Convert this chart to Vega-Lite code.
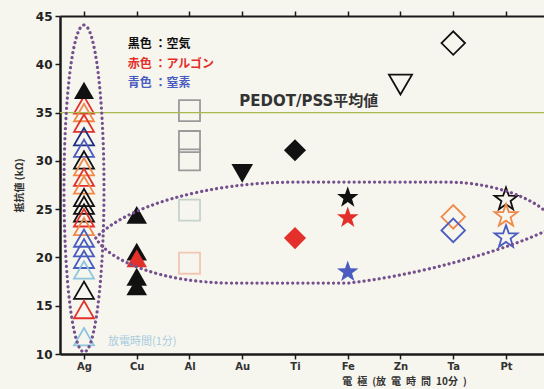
{
"$schema":"https://vega.github.io/schema/vega-lite/v6.json",
"width":484,"height":338,
"autosize":{"type":"none"},
"padding":{"left":60,"top":16,"right":0,"bottom":35},
"background":"#f7f6ee",
"config":{
 "view":{"stroke":null},
 "axisX":{"domain":true,"ticks":true,"domainWidth":2.5,"domainColor":"#1a1a1a","tickColor":"#1a1a1a","tickWidth":1.5,"tickSize":5,"labelFont":"DejaVu Sans","labelFontWeight":"bold","labelFontSize":10,"labelColor":"#333","labelAngle":0,"labelPadding":2,"grid":false},
 "axisY":{"domain":true,"ticks":true,"tickSize":5,"tickColor":"#1a1a1a","tickWidth":1.5,"domainWidth":2.5,"domainColor":"#1a1a1a","labelFont":"DejaVu Sans","labelFontWeight":"bold","labelFontSize":12,"labelColor":"#222","labelPadding":3,"grid":false,"titleFont":"Noto Sans CJK JP","titleFontWeight":"bold","titleFontSize":10,"titleColor":"#333","titlePadding":11}
},
"datasets":{"pts":[
 {"element":"Ag","value":37.3,"gas":"空気","marker":"filled"},
 {"element":"Ag","value":35.8,"gas":"アルゴン","marker":"open"},
 {"element":"Ag","value":35.0,"gas":"アルゴン2","marker":"open"},
 {"element":"Ag","value":33.9,"gas":"アルゴン","marker":"open"},
 {"element":"Ag","value":32.5,"gas":"窒素2","marker":"open"},
 {"element":"Ag","value":31.3,"gas":"窒素","marker":"open"},
 {"element":"Ag","value":30.1,"gas":"空気","marker":"open"},
 {"element":"Ag","value":29.4,"gas":"アルゴン2","marker":"open"},
 {"element":"Ag","value":28.3,"gas":"アルゴン","marker":"open"},
 {"element":"Ag","value":27.5,"gas":"アルゴン2","marker":"open"},
 {"element":"Ag","value":26.2,"gas":"空気","marker":"open"},
 {"element":"Ag","value":25.4,"gas":"空気","marker":"open"},
 {"element":"Ag","value":24.6,"gas":"空気","marker":"open"},
 {"element":"Ag","value":24.1,"gas":"アルゴン","marker":"open"},
 {"element":"Ag","value":23.2,"gas":"アルゴン2","marker":"open"},
 {"element":"Ag","value":22.0,"gas":"窒素","marker":"open"},
 {"element":"Ag","value":21.0,"gas":"窒素","marker":"open"},
 {"element":"Ag","value":19.8,"gas":"窒素","marker":"open"},
 {"element":"Ag","value":18.7,"gas":"窒素3","marker":"open"},
 {"element":"Ag","value":16.6,"gas":"空気","marker":"open"},
 {"element":"Ag","value":14.6,"gas":"アルゴン","marker":"open"},
 {"element":"Ag","value":11.8,"gas":"窒素3","marker":"open"},
 {"element":"Cu","value":24.4,"gas":"空気","marker":"filled"},
 {"element":"Cu","value":20.6,"gas":"空気","marker":"filled"},
 {"element":"Cu","value":18.0,"gas":"空気","marker":"filled"},
 {"element":"Cu","value":17.0,"gas":"空気","marker":"filled"},
 {"element":"Cu","value":19.9,"gas":"アルゴン","marker":"filled"},
 {"element":"Al","value":35.2,"gas":"Al空気","marker":"open"},
 {"element":"Al","value":32.0,"gas":"Al空気","marker":"open"},
 {"element":"Al","value":30.1,"gas":"Al空気","marker":"open"},
 {"element":"Al","value":24.9,"gas":"Al窒素","marker":"open"},
 {"element":"Al","value":19.4,"gas":"Alアルゴン","marker":"open"},
 {"element":"Au","value":28.7,"gas":"空気","marker":"filled"},
 {"element":"Ti","value":31.1,"gas":"空気","marker":"filled"},
 {"element":"Ti","value":22.0,"gas":"アルゴン","marker":"filled"},
 {"element":"Fe","value":26.2,"gas":"空気","marker":"filled"},
 {"element":"Fe","value":24.1,"gas":"アルゴン","marker":"filled"},
 {"element":"Fe","value":18.5,"gas":"窒素","marker":"filled"},
 {"element":"Zn","value":37.9,"gas":"空気","marker":"open"},
 {"element":"Ta","value":42.2,"gas":"空気","marker":"open"},
 {"element":"Ta","value":24.2,"gas":"アルゴン2","marker":"open"},
 {"element":"Ta","value":22.8,"gas":"窒素","marker":"open"},
 {"element":"Pt","value":26.0,"gas":"空気","marker":"open"},
 {"element":"Pt","value":24.3,"gas":"アルゴン2","marker":"open"},
 {"element":"Pt","value":22.1,"gas":"窒素","marker":"open"}
]},
"resolve":{"axis":{"x":"independent"}},
"layer":[
 {"data":{"name":"pts"},
  "transform":[{"filter":"datum.marker === 'open'"}],
  "mark":{"type":"point","filled":false,"strokeWidth":1.8,"opacity":1},
  "encoding":{
   "x":{"field":"element","type":"nominal","scale":{"type":"point","domain":["Ag","Cu","Al","Au","Ti","Fe","Zn","Ta","Pt"],"padding":0.5877,"align":0.387},
        "axis":{"orient":"bottom","encode":{"ticks":{"update":{"y2":{"value":-5}}}},"title":"電\u2002極\u2002(放\u2002電\u2002時\u2002間\u200210分\u2002)","titleFont":"Noto Sans CJK JP","titleFontWeight":"bold","titleFontSize":10,"titleColor":"#333","titleX":344,"titleY":27,"titleBaseline":"middle","titleAlign":"center"}},
   "y":{"field":"value","type":"quantitative","scale":{"domain":[10,45],"zero":false,"nice":false},
        "axis":{"orient":"left","domain":true,"encode":{"ticks":{"update":{"x2":{"value":5}}}},"title":"抵抗値 (kΩ)","values":[10,12.5,15,17.5,20,22.5,25,27.5,30,32.5,35,37.5,40,42.5,45],"labelExpr":"datum.value % 5 === 0 ? datum.label : ''","labelOverlap":false}},
   "color":{"field":"gas","type":"nominal","legend":null,"scale":{"domain":["空気","アルゴン","アルゴン2","窒素","窒素2","窒素3","Al空気","Al窒素","Alアルゴン"],"range":["#111111","#e3302a","#f0884a","#4a5cc0","#1e2f80","#8cc6e0","#9a9a9a","#c4d4c8","#f2c6b2"]}},
   "shape":{"field":"element","type":"nominal","legend":null,"scale":{"domain":["Ag","Cu","Al","Au","Ti","Fe","Zn","Ta","Pt"],"range":["triangle-up","triangle-up","square","triangle-down","diamond","M 0 -1 L 0.2351 -0.3236 L 0.9511 -0.309 L 0.3804 0.1236 L 0.5878 0.809 L 0 0.4 L -0.5878 0.809 L -0.3804 0.1236 L -0.9511 -0.309 L -0.2351 -0.3236 Z","triangle-down","diamond","M 0 -1 L 0.2351 -0.3236 L 0.9511 -0.309 L 0.3804 0.1236 L 0.5878 0.809 L 0 0.4 L -0.5878 0.809 L -0.3804 0.1236 L -0.9511 -0.309 L -0.2351 -0.3236 Z"]}},
   "size":{"field":"element","type":"nominal","legend":null,"scale":{"domain":["Ag","Cu","Al","Au","Ti","Fe","Zn","Ta","Pt"],"range":[400,576,289,625,625,690,625,729,586]}}
  }},
 {"data":{"name":"pts"},
  "transform":[{"filter":"datum.marker === 'filled'"}],
  "mark":{"type":"point","filled":true,"opacity":1},
  "encoding":{
   "x":{"field":"element","type":"nominal","scale":{"type":"point","domain":["Ag","Cu","Al","Au","Ti","Fe","Zn","Ta","Pt"],"padding":0.5877,"align":0.387},
        "axis":{"orient":"top","labels":false,"title":null,"domainWidth":2,"encode":{"ticks":{"update":{"y2":{"value":5}}}}}},
   "y":{"field":"value","type":"quantitative","scale":{"domain":[10,45],"zero":false,"nice":false}},
   "color":{"field":"gas","type":"nominal","legend":null,"scale":{"domain":["空気","アルゴン","アルゴン2","窒素","窒素2","窒素3","Al空気","Al窒素","Alアルゴン"],"range":["#111111","#e3302a","#f0884a","#4a5cc0","#1e2f80","#8cc6e0","#9a9a9a","#c4d4c8","#f2c6b2"]}},
   "shape":{"field":"element","type":"nominal","legend":null,"scale":{"domain":["Ag","Cu","Al","Au","Ti","Fe","Zn","Ta","Pt"],"range":["triangle-up","triangle-up","square","triangle-down","diamond","M 0 -1 L 0.2351 -0.3236 L 0.9511 -0.309 L 0.3804 0.1236 L 0.5878 0.809 L 0 0.4 L -0.5878 0.809 L -0.3804 0.1236 L -0.9511 -0.309 L -0.2351 -0.3236 Z","triangle-down","diamond","M 0 -1 L 0.2351 -0.3236 L 0.9511 -0.309 L 0.3804 0.1236 L 0.5878 0.809 L 0 0.4 L -0.5878 0.809 L -0.3804 0.1236 L -0.9511 -0.309 L -0.2351 -0.3236 Z"]}},
   "size":{"field":"element","type":"nominal","legend":null,"scale":{"domain":["Ag","Cu","Al","Au","Ti","Fe","Zn","Ta","Pt"],"range":[400,576,289,625,625,690,625,729,586]}}
  }},
 {"data":{"values":[{"label":"PEDOT/PSS平均値","element":"Au","value":35}]},
  "mark":{"type":"rule","color":"#a9b94e","strokeWidth":1.2},
  "encoding":{"y":{"field":"value","type":"quantitative","scale":{"domain":[10,45],"zero":false,"nice":false}}}},
 {"data":{"values":[{"label":"PEDOT/PSS平均値","element":"Au","value":35}]},
  "mark":{"type":"text","align":"left","baseline":"alphabetic","dx":-3,"dy":-7,"font":"DejaVu Sans, Noto Sans CJK JP","fontWeight":"bold","fontSize":15,"color":"#333"},
  "encoding":{"text":{"field":"label"},
   "x":{"field":"element","type":"nominal","scale":{"type":"point","domain":["Ag","Cu","Al","Au","Ti","Fe","Zn","Ta","Pt"],"padding":0.5877,"align":0.387},"axis":null},
   "y":{"field":"value","type":"quantitative","scale":{"domain":[10,45],"zero":false,"nice":false}}}},
 {"data":{"values":[{"element":"Ag","value":27.14}]},
  "mark":{"type":"point","shape":"M 0 -1 C 0.0675 -1 0.1223 -0.5523 0.1223 0 C 0.1223 0.5523 0.0675 1 0 1 C -0.0675 1 -0.1223 0.5523 -0.1223 0 C -0.1223 -0.5523 -0.0675 -1 0 -1 Z","size":106929,"filled":false,"stroke":"#74508e","strokeWidth":3.2,"strokeDash":[0.1,5],"strokeCap":"round","opacity":1},
  "encoding":{"x":{"field":"element","type":"nominal","scale":{"type":"point","domain":["Ag","Cu","Al","Au","Ti","Fe","Zn","Ta","Pt"],"padding":0.5877,"align":0.387},"axis":null},
   "y":{"field":"value","type":"quantitative","scale":{"domain":[10,45],"zero":false,"nice":false}}}},
 {"data":{"values":[{"element":"Fe","value":22.63}]},
  "mark":{"type":"point","shape":"M -1 0.0262 C -0.8734 -0.1092 -0.524 -0.2183 -0.1135 -0.2183 L 0.524 -0.2183 C 0.786 -0.2183 1 -0.1092 1 -0.0262 C 0.9389 0.0218 0.524 0.1747 0.1048 0.2227 L -0.4061 0.2227 C -0.6987 0.2227 -0.9389 0.131 -1 0.0262 Z","size":209764,"filled":false,"stroke":"#74508e","strokeWidth":3.2,"strokeDash":[0.1,5],"strokeCap":"round","opacity":1,"xOffset":-23},
  "encoding":{"x":{"field":"element","type":"nominal","scale":{"type":"point","domain":["Ag","Cu","Al","Au","Ti","Fe","Zn","Ta","Pt"],"padding":0.5877,"align":0.387},"axis":null},
   "y":{"field":"value","type":"quantitative","scale":{"domain":[10,45],"zero":false,"nice":false}}}},
 {"data":{"values":[{"label":"黒色 ：空気","gas":"空気","element":"Cu","value":42.1},{"label":"赤色 ：アルゴン","gas":"アルゴン","element":"Cu","value":40.05},{"label":"青色 ：窒素","gas":"窒素","element":"Cu","value":38.05}]},
  "mark":{"type":"text","align":"left","baseline":"middle","dx":-9,"font":"Noto Sans CJK JP","fontWeight":"bold","fontSize":12},
  "encoding":{"text":{"field":"label"},
   "color":{"field":"gas","type":"nominal","legend":null,"scale":{"domain":["空気","アルゴン","窒素"],"range":["#222222","#f0703a","#4a58b0"]}},
   "x":{"field":"element","type":"nominal","scale":{"type":"point","domain":["Ag","Cu","Al","Au","Ti","Fe","Zn","Ta","Pt"],"padding":0.5877,"align":0.387},"axis":null},
   "y":{"field":"value","type":"quantitative","scale":{"domain":[10,45],"zero":false,"nice":false}}}},
 {"data":{"values":[{"label":"放電時間(1分)","element":"Ag","value":11.25}]},
  "mark":{"type":"text","align":"left","baseline":"middle","dx":24,"font":"Noto Sans CJK JP","fontSize":11,"color":"#a8cce0"},
  "encoding":{"text":{"field":"label"},
   "x":{"field":"element","type":"nominal","scale":{"type":"point","domain":["Ag","Cu","Al","Au","Ti","Fe","Zn","Ta","Pt"],"padding":0.5877,"align":0.387},"axis":null},
   "y":{"field":"value","type":"quantitative","scale":{"domain":[10,45],"zero":false,"nice":false}}}}
]
}
